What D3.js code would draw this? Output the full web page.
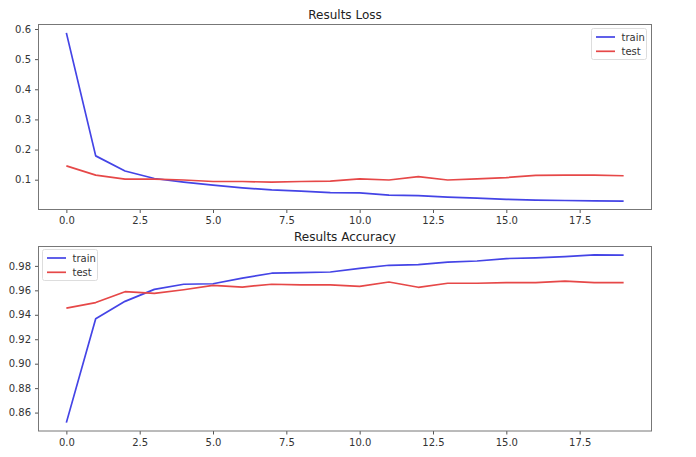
<!DOCTYPE html>
<html>
<head>
<meta charset="utf-8">
<script src="https://cdn.jsdelivr.net/npm/d3@7"></script>
<style>
  html, body { margin: 0; padding: 0; background: #fff; }
  svg { display: block; }
  text { font-family: "DejaVu Sans", sans-serif; }
</style>
</head>
<body>
<svg id="chart" width="696" height="457"></svg>
<script>
const epochs = d3.range(20);
const trainLoss = [0.587, 0.179, 0.129, 0.104, 0.092, 0.082, 0.073, 0.066, 0.062, 0.057,
                   0.056, 0.049, 0.047, 0.042, 0.039, 0.035, 0.032, 0.031, 0.030, 0.029];
const testLoss  = [0.146, 0.115, 0.102, 0.102, 0.099, 0.094, 0.094, 0.092, 0.094, 0.095,
                   0.103, 0.099, 0.110, 0.099, 0.103, 0.107, 0.114, 0.115, 0.115, 0.113];
const trainAcc  = [0.8518, 0.9367, 0.951, 0.9608, 0.965, 0.9654, 0.970, 0.974, 0.9745, 0.975,
                   0.978, 0.9805, 0.981, 0.983, 0.984, 0.986, 0.9865, 0.9875, 0.989, 0.9888];
const testAcc   = [0.9454, 0.950, 0.9589, 0.9575, 0.9605, 0.964, 0.9627, 0.965, 0.9645, 0.9645,
                   0.9633, 0.9668, 0.9625, 0.9658, 0.9658, 0.9663, 0.9663, 0.9676, 0.9663, 0.9663];
const xTicks = [0, 2.5, 5, 7.5, 10, 12.5, 15, 17.5];
const lossTicks = [0.1, 0.2, 0.3, 0.4, 0.5, 0.6];
const accTicks = [0.86, 0.88, 0.90, 0.92, 0.94, 0.96, 0.98];
const seriesNames = ["train", "test"];
const colors = ["#4444e6", "#e64848"];

const svg = d3.select("#chart");

function panel(cfg) {
  const {top, bottom, title, series, yTicks, yFmt, legendPos} = cfg;
  const left = 38.5, right = 651.5;
  const x = d3.scaleLinear().domain([-0.95, 19.95]).range([left, right]);
  const all = series.flat();
  const mn = d3.min(all), mx = d3.max(all), pad = (mx - mn) * 0.05;
  const y = d3.scaleLinear().domain([mn - pad, mx + pad]).range([bottom, top]);
  const g = svg.append("g");

  const xa = g.append("g").attr("transform", `translate(0,${bottom})`)
    .call(d3.axisBottom(x).tickValues(xTicks).tickFormat(d3.format(".1f")).tickSize(3.5).tickPadding(4));
  const ya = g.append("g").attr("transform", `translate(${left},0)`)
    .call(d3.axisLeft(y).tickValues(yTicks).tickFormat(yFmt).tickSize(3.5).tickPadding(4));
  [xa, ya].forEach(a => {
    a.select(".domain").remove();
    a.selectAll("line").attr("stroke", "#555");
    a.selectAll("text").attr("fill", "#333").style("font-size", "10px");
  });

  const line = d3.line().x((d, i) => x(epochs[i])).y(d => y(d));
  series.forEach((s, k) => {
    g.append("path").datum(s).attr("d", line)
      .attr("fill", "none").attr("stroke", colors[k]).attr("stroke-width", 1.7)
      .attr("stroke-linejoin", "round");
  });

  g.append("rect").attr("x", left).attr("y", top).attr("width", right - left).attr("height", bottom - top)
    .attr("fill", "none").attr("stroke", "#777").attr("stroke-width", 1);

  g.append("text").attr("x", (left + right) / 2).attr("y", top - 6)
    .attr("text-anchor", "middle").attr("fill", "#222").style("font-size", "12px").text(title);

  const lg = g.append("g").attr("transform", `translate(${legendPos[0]},${legendPos[1]})`);
  lg.append("rect").attr("x", 0).attr("y", 0).attr("width", 55).attr("height", 31).attr("rx", 2)
    .attr("fill", "#fff").attr("stroke", "#ddd");
  seriesNames.forEach((n, k) => {
    const yy = 8.5 + k * 14.3;
    lg.append("line").attr("x1", 4.5).attr("x2", 23.5).attr("y1", yy).attr("y2", yy)
      .attr("stroke", colors[k]).attr("stroke-width", 1.7);
    lg.append("text").attr("x", 30).attr("y", yy).attr("dy", "0.35em")
      .attr("fill", "#333").style("font-size", "10px").text(n);
  });
}

panel({top: 24.5, bottom: 209.5, title: "Results Loss", series: [trainLoss, testLoss],
       yTicks: lossTicks, yFmt: d3.format(".1f"), legendPos: [591.5, 28.5]});
panel({top: 246.5, bottom: 431, title: "Results Accuracy", series: [trainAcc, testAcc],
       yTicks: accTicks, yFmt: d3.format(".2f"), legendPos: [42.5, 249.5]});
</script>
</body>
</html>
